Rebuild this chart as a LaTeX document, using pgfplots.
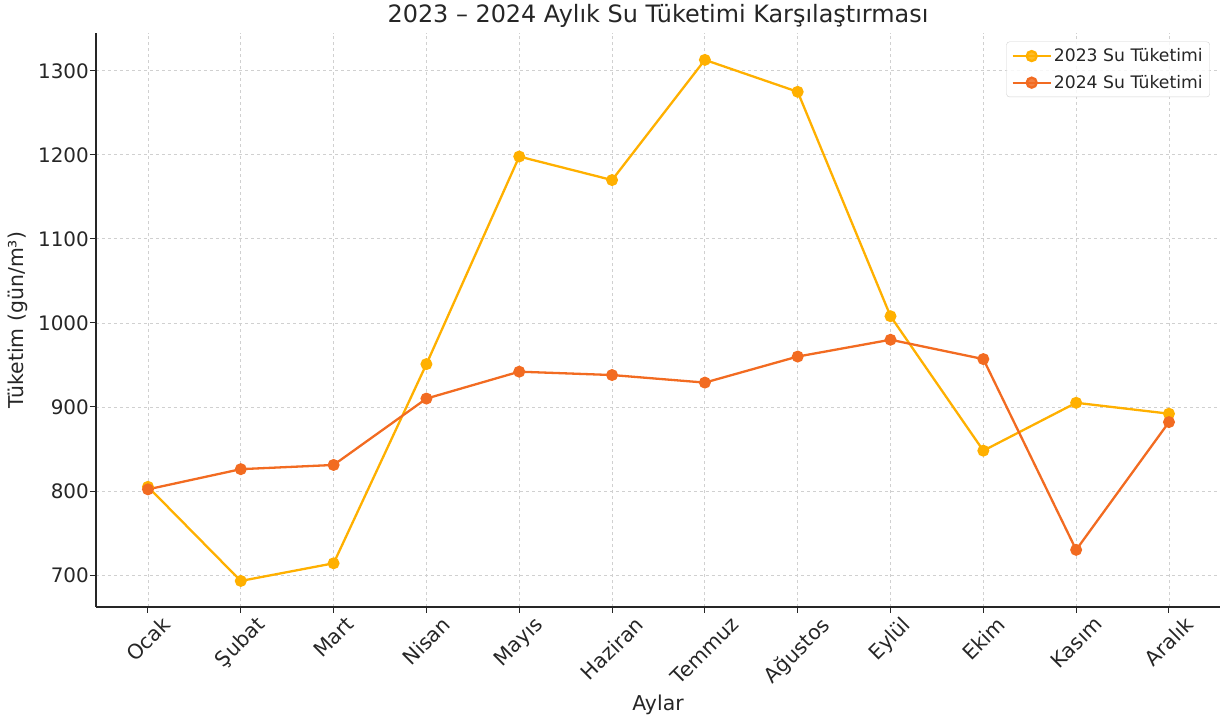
\documentclass[border=0pt]{standalone}
\usepackage{graphicx}
\usepackage{pgfplots}
\pgfplotsset{compat=1.18}
\usepackage{fontspec}
\setmainfont{DejaVu Sans}
\definecolor{c23}{HTML}{FFB000}
\definecolor{c24}{HTML}{F26B21}
\definecolor{txt}{HTML}{262626}
\definecolor{gridc}{HTML}{D0D0D0}
\newcommand\rl[1]{\rotatebox{45}{#1}}
\begin{document}
\begin{tikzpicture}[x=1bp,y=1bp]
\useasboundingbox (-96,-114) rectangle (1124,607);
\begin{axis}[
  at={(0,0)}, anchor=south west,
  scale only axis, width=1124bp, height=574bp,
  xmin=-0.56, xmax=11.55, ymin=662, ymax=1345,
  axis x line*=bottom, axis y line*=left,
  axis line style={txt, line width=1.2bp},
  tick align=outside, major tick length=6bp,
  tick style={txt, line width=1bp},
  xtick={0,...,11},
  xticklabels={\rl{Ocak},\rl{Şubat},\rl{Mart},\rl{Nisan},\rl{Mayıs},\rl{Haziran},\rl{Temmuz},\rl{Ağustos},\rl{Eylül},\rl{Ekim},\rl{Kasım},\rl{Aralık}},
  ytick={700,800,...,1300},
  grid=major, grid style={gridc, dashed, line width=0.8bp},
  /pgf/number format/assume math mode=true,
  /pgf/number format/1000 sep={},
  xticklabel style={font=\fontsize{20.5}{24}\selectfont, text=txt, anchor=north, yshift=-1bp, inner sep=1bp},
  yticklabel style={font=\fontsize{20}{24}\selectfont, text=txt, anchor=east, inner sep=1bp},
  title={2023 – 2024 Aylık Su Tüketimi Karşılaştırması},
  title style={font=\fontsize{24}{28}\selectfont, text=txt, at={(axis description cs:0.5,1)}, anchor=south, yshift=-3bp, inner sep=2bp},
  xlabel={Aylar},
  xlabel style={font=\fontsize{20.5}{24}\selectfont, text=txt, at={(axis description cs:0.5,0)}, anchor=center, yshift=-98bp},
  ylabel={Tüketim (gün/m³)},
  ylabel style={font=\fontsize{20.5}{24}\selectfont, text=txt, at={(axis description cs:-0.0694,0.5)}, anchor=center},
  legend style={at={(axis description cs:0.991,0.985)}, anchor=north east, draw=gray!35, rounded corners=3bp, font=\fontsize{17.3}{20}\selectfont, text=txt, fill=white, fill opacity=0.85, text opacity=1, inner sep=5bp, row sep=8bp},
  legend cell align=left,
  legend image code/.code={\draw[#1] (0bp,0bp) -- (38bp,0bp); \fill[#1] (19bp,0bp) circle (5bp);},
]
\addplot[c23, line width=2.3bp, mark=*, mark size=4.8bp, mark options={fill=c23, draw=c23}] coordinates {
(0,805) (1,693) (2,714) (3,951) (4,1198) (5,1170) (6,1313) (7,1275) (8,1008) (9,848) (10,905) (11,892)};
\addlegendentry{2023 Su Tüketimi}
\addplot[c24, line width=2.3bp, mark=*, mark size=4.8bp, mark options={fill=c24, draw=c24}] coordinates {
(0,802) (1,826) (2,831) (3,910) (4,942) (5,938) (6,929) (7,960) (8,980) (9,957) (10,730) (11,882)};
\addlegendentry{2024 Su Tüketimi}
\end{axis}
\end{tikzpicture}
\end{document}
